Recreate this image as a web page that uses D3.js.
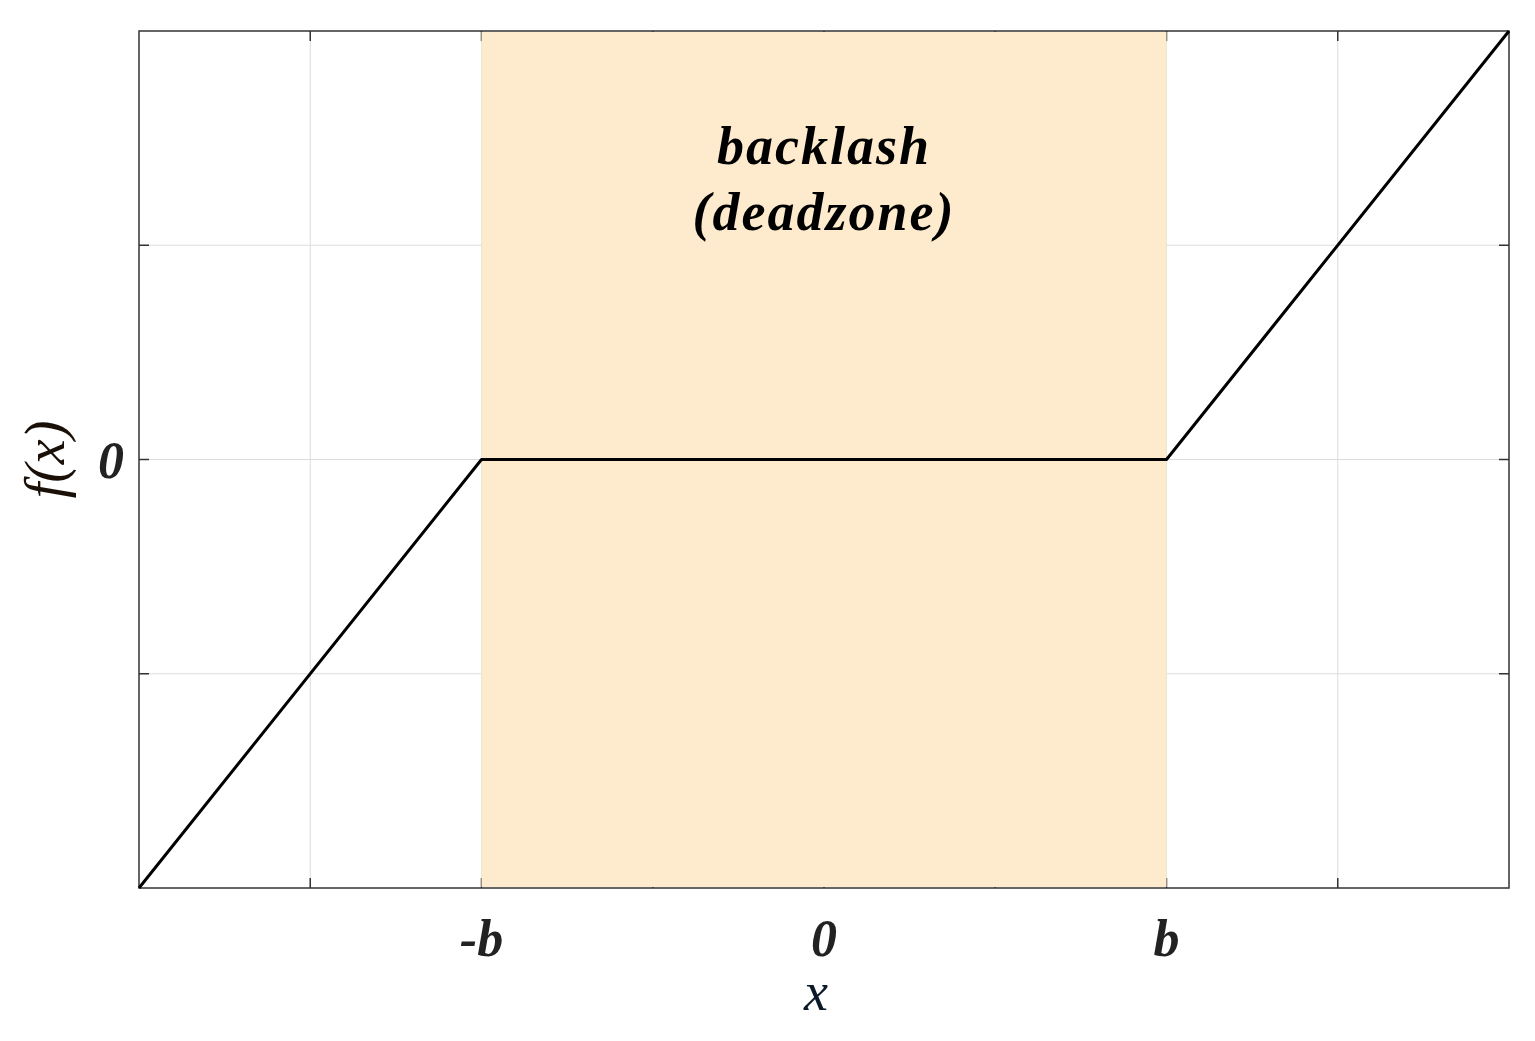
<!DOCTYPE html>
<html>
<head>
<meta charset="utf-8">
<script src="https://cdn.jsdelivr.net/npm/d3@7"></script>
<style>
  body { margin: 0; background: #fff; }
  text { font-family: "Liberation Serif", "DejaVu Serif", serif; }
</style>
</head>
<body>
<svg id="chart"></svg>
<script>
// chart values
var b = 2;
var xDomain = [-4, 4];
var yDomain = [-2, 2];
var xTicks = [-3, -2, -1, 0, 1, 2, 3];
var yTicks = [-1, 0, 1];
var xTickLabels = [{v: -b, t: "-b"}, {v: 0, t: "0"}, {v: b, t: "b"}];
var yTickLabels = [{v: 0, t: "0"}];
var curveX = [-4, -2, 2, 4];
var curveY = [-2, 0, 0, 2];
var zoneLabel = ["backlash", "(deadzone)"];

var width = 1535, height = 1041;
var plotLeft = 139, plotRight = 1509, plotTop = 31, plotBottom = 888;

var svg = d3.select("#chart").attr("width", width).attr("height", height);

var x = d3.scaleLinear(xDomain, [plotLeft, plotRight]);
var y = d3.scaleLinear(yDomain, [plotBottom, plotTop]);

// grid
svg.append("g").selectAll("line").data(xTicks).enter().append("line")
  .attr("x1", d => x(d)).attr("x2", d => x(d))
  .attr("y1", plotTop).attr("y2", plotBottom)
  .attr("stroke", "#dcdcdc").attr("stroke-width", 1);
svg.append("g").selectAll("line").data(yTicks).enter().append("line")
  .attr("x1", plotLeft).attr("x2", plotRight)
  .attr("y1", d => y(d)).attr("y2", d => y(d))
  .attr("stroke", "#dcdcdc").attr("stroke-width", 1);

// inward ticks on all four sides
var tickLen = 10;
var ticks = svg.append("g").attr("stroke", "#333").attr("stroke-width", 1.5);
xTicks.forEach(function(v) {
  ticks.append("line").attr("x1", x(v)).attr("x2", x(v)).attr("y1", plotBottom).attr("y2", plotBottom - tickLen);
  ticks.append("line").attr("x1", x(v)).attr("x2", x(v)).attr("y1", plotTop).attr("y2", plotTop + tickLen);
});
yTicks.forEach(function(v) {
  ticks.append("line").attr("x1", plotLeft).attr("x2", plotLeft + tickLen).attr("y1", y(v)).attr("y2", y(v));
  ticks.append("line").attr("x1", plotRight).attr("x2", plotRight - tickLen).attr("y1", y(v)).attr("y2", y(v));
});

// deadzone band
svg.append("rect")
  .attr("x", x(-b)).attr("y", plotTop + 1)
  .attr("width", x(b) - x(-b)).attr("height", plotBottom - plotTop - 2)
  .attr("fill", "#feebcd");

// frame
svg.append("rect")
  .attr("x", plotLeft).attr("y", plotTop)
  .attr("width", plotRight - plotLeft).attr("height", plotBottom - plotTop)
  .attr("fill", "none").attr("stroke", "#333").attr("stroke-width", 1.5);

// curve
var pts = curveX.map((v, i) => [v, curveY[i]]);
svg.append("path")
  .attr("d", d3.line().x(d => x(d[0])).y(d => y(d[1]))(pts))
  .attr("fill", "none").attr("stroke", "#000").attr("stroke-width", 3)
  .attr("stroke-linejoin", "round");

// tick labels
svg.append("g").selectAll("text").data(xTickLabels).enter().append("text")
  .attr("x", d => x(d.v)).attr("y", 956)
  .attr("text-anchor", "middle")
  .attr("font-size", 52).attr("font-weight", "bold").attr("font-style", "italic")
  .attr("fill", "#222")
  .text(d => d.t);
svg.append("g").selectAll("text").data(yTickLabels).enter().append("text")
  .attr("x", 124).attr("y", d => y(d.v) + 18)
  .attr("text-anchor", "end")
  .attr("font-size", 52).attr("font-weight", "bold").attr("font-style", "italic")
  .attr("fill", "#222")
  .text(d => d.t);

// axis labels
svg.append("text")
  .attr("x", x(0) - 8).attr("y", 1010)
  .attr("text-anchor", "middle")
  .attr("font-size", 54).attr("font-style", "italic")
  .attr("fill", "#0a1a2a")
  .text("x");
svg.append("text")
  .attr("transform", "translate(64," + y(0) + ") rotate(-90)")
  .attr("text-anchor", "middle")
  .attr("font-size", 56).attr("font-style", "italic")
  .attr("fill", "#1a1008")
  .text("f(x)");

// band label
svg.append("g").selectAll("text").data(zoneLabel).enter().append("text")
  .attr("x", x(0)).attr("y", (d, i) => 164 + i * 66)
  .attr("text-anchor", "middle")
  .attr("font-size", 54).attr("font-weight", "bold").attr("font-style", "italic")
  .attr("letter-spacing", 2)
  .attr("fill", "#000")
  .text(d => d);
</script>
</body>
</html>
